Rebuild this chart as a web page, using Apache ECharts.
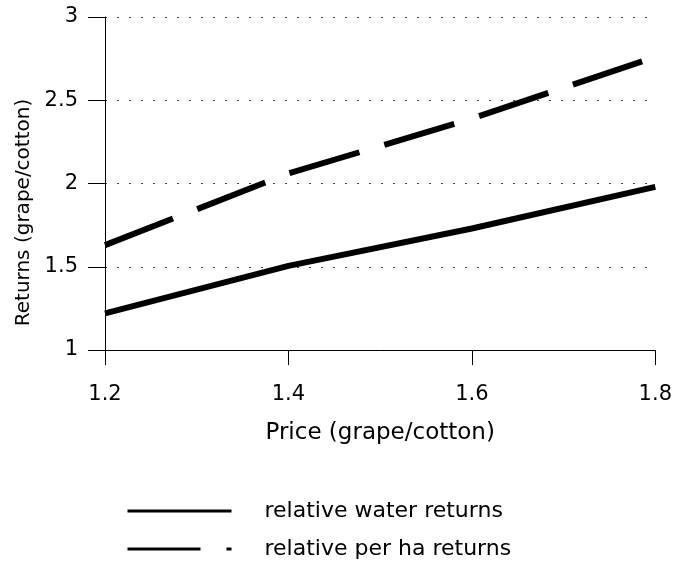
<!DOCTYPE html>
<html>
<head>
<meta charset="utf-8">
<script src="https://cdn.jsdelivr.net/npm/echarts@6/dist/echarts.min.js"></script>
<style>
html, body { margin: 0; padding: 0; background: #fff; }
#chart { width: 675px; height: 566px; }
</style>
</head>
<body>
<div id="chart"></div>
<script>
// price ratio (grape/cotton)
const prices = ['1.2', '1.4', '1.6', '1.8']
// returns ratio (grape/cotton)
const waterReturns = [1.22, 1.505, 1.73, 1.98]
const perHaReturns = [1.63, 2.06, 2.39, 2.76]

const font = 'DejaVu Sans'
const chart = echarts.init(document.getElementById('chart'))

chart.setOption({
  animation: false,
  color: ['#000', '#000'],
  grid: { left: 105, right: 19, top: 17, bottom: 216 },
  xAxis: {
    type: 'category',
    data: prices,
    boundaryGap: false,
    name: 'Price (grape/cotton)',
    nameLocation: 'middle',
    nameGap: 72,
    nameTextStyle: { color: '#000', fontFamily: font, fontSize: 23 },
    axisLine: { lineStyle: { color: '#000', width: 1 } },
    axisTick: { length: 15, lineStyle: { color: '#000' } },
    axisLabel: { color: '#000', fontFamily: font, fontSize: 21, margin: 34 },
    splitLine: { show: false }
  },
  yAxis: {
    type: 'value',
    min: 1,
    max: 3,
    interval: 0.5,
    name: 'Returns (grape/cotton)',
    nameLocation: 'middle',
    nameGap: 62,
    nameTextStyle: { color: '#000', fontFamily: font, fontSize: 20, padding: [0, 58, 0, 0] },
    axisLine: { show: true, lineStyle: { color: '#000', width: 1 } },
    axisTick: { show: true, length: 17, lineStyle: { color: '#000' } },
    axisLabel: { color: '#000', fontFamily: font, fontSize: 21, margin: 27 },
    splitLine: { show: true, lineStyle: { color: '#444', width: 1, type: [2, 10] } }
  },
  legend: {
    orient: 'vertical',
    left: 126,
    top: 500,
    padding: 0,
    itemWidth: 104,
    itemHeight: 14,
    itemGap: 16,
    itemStyle: { opacity: 0 },
    textStyle: { color: '#000', fontFamily: font, fontSize: 22, padding: [0, 0, 0, 28] },
    data: [
      { name: 'relative water returns', lineStyle: { width: 3 } },
      { name: 'relative per ha returns', lineStyle: { width: 3 } }
    ]
  },
  series: [
    {
      name: 'relative water returns',
      type: 'line',
      data: waterReturns,
      symbol: 'none',
      lineStyle: { color: '#000', width: 6 }
    },
    {
      name: 'relative per ha returns',
      type: 'line',
      data: perHaReturns,
      symbol: 'none',
      lineStyle: { color: '#000', width: 6, type: [73, 26], cap: 'butt' }
    }
  ]
})
</script>
</body>
</html>
